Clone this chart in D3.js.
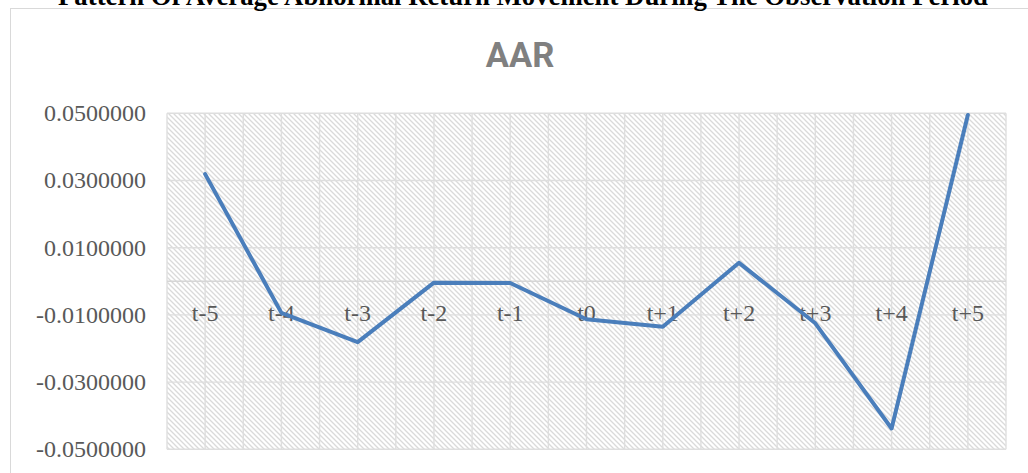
<!DOCTYPE html>
<html>
<head>
<meta charset="utf-8">
<script src="https://cdn.jsdelivr.net/npm/d3@7"></script>
<style>
  html, body { margin: 0; padding: 0; background: #fff; overflow: hidden; }
</style>
</head>
<body>
<div id="chart"></div>
<script>
const periods = ["t-5", "t-4", "t-3", "t-2", "t-1", "t0", "t+1", "t+2", "t+3", "t+4", "t+5"];
const aar = [0.0319, -0.0094, -0.0181, -0.0004, -0.0005, -0.0113, -0.0135, 0.0055, -0.0125, -0.0438, 0.0495];
const yTicks = [0.05, 0.03, 0.01, -0.01, -0.03, -0.05];
const pageTitle = "Pattern Of Average Abnormal Return Movement During The Observation Period";
const chartTitle = "AAR";

const W = 1028, H = 473;
const plot = { left: 167, right: 1006, top: 113.3, bottom: 449.3 };

const svg = d3.select("#chart")
    .append("svg")
    .attr("width", W)
    .attr("height", H);

// hatch fill of the plot area
const defs = svg.append("defs");
const pat = defs.append("pattern")
    .attr("id", "hatch")
    .attr("patternUnits", "userSpaceOnUse")
    .attr("width", 5)
    .attr("height", 5);
pat.append("rect").attr("width", 5).attr("height", 5).attr("fill", "#fff");
pat.append("path")
    .attr("d", "M-1,-1 L6,6 M-1,4 L1,6 M4,-1 L6,1")
    .attr("stroke", "#dadada")
    .attr("stroke-width", 1.3);

// chart box (cropped at right and bottom)
svg.append("rect")
    .attr("x", 10.5)
    .attr("y", 8.5)
    .attr("width", 1040)
    .attr("height", 500)
    .attr("fill", "none")
    .attr("stroke", "#d9d9d9")
    .attr("stroke-width", 1);

const x = d3.scaleBand()
    .domain(periods)
    .range([plot.left, plot.right])
    .padding(0);

const y = d3.scaleLinear()
    .domain([-0.05, 0.05])
    .range([plot.bottom, plot.top]);

const cx = d => x(d) + x.bandwidth() / 2;
const fmt = d => d3.format(".7f")(d).replace("\u2212", "-");

svg.append("rect")
    .attr("x", plot.left)
    .attr("y", plot.top)
    .attr("width", plot.right - plot.left)
    .attr("height", plot.bottom - plot.top)
    .attr("fill", "url(#hatch)");

// vertical gridlines at band edges and centres
const vLines = [];
periods.forEach(p => { vLines.push(x(p)); vLines.push(cx(p)); });
vLines.push(plot.right);

svg.append("g")
    .selectAll("line")
    .data(vLines)
    .join("line")
    .attr("x1", d => d)
    .attr("x2", d => d)
    .attr("y1", plot.top)
    .attr("y2", plot.bottom)
    .attr("stroke", "#dedede")
    .attr("stroke-width", 1.4);

// horizontal gridlines
svg.append("g")
    .selectAll("line")
    .data(yTicks.concat([0]))
    .join("line")
    .attr("x1", plot.left)
    .attr("x2", plot.right)
    .attr("y1", d => y(d))
    .attr("y2", d => y(d))
    .attr("stroke", d => d === 0 ? "#d6d6d6" : "#dedede")
    .attr("stroke-width", 1.4);

// y tick labels
svg.append("g")
    .selectAll("text")
    .data(yTicks)
    .join("text")
    .attr("x", 146)
    .attr("y", d => y(d))
    .attr("dy", "0.33em")
    .attr("text-anchor", "end")
    .attr("font-family", "'Liberation Serif', 'Times New Roman', serif")
    .attr("font-size", 24)
    .attr("fill", "#595959")
    .text(fmt);

// category labels next to the zero axis
svg.append("g")
    .selectAll("text")
    .data(periods)
    .join("text")
    .attr("x", d => cx(d))
    .attr("y", y(0) + 39.5)
    .attr("text-anchor", "middle")
    .attr("font-family", "'Liberation Serif', 'Times New Roman', serif")
    .attr("font-size", 24)
    .attr("fill", "#595959")
    .text(d => d);

// the series
const line = d3.line()
    .x((d, i) => cx(periods[i]))
    .y(d => y(d));

svg.append("path")
    .datum(aar)
    .attr("fill", "none")
    .attr("stroke", "#4a7ebb")
    .attr("stroke-width", 4)
    .attr("stroke-linejoin", "round")
    .attr("stroke-linecap", "round")
    .attr("d", line);

// chart title
svg.append("text")
    .attr("x", 520)
    .attr("y", 67.3)
    .attr("text-anchor", "middle")
    .attr("font-family", "Roboto, 'Liberation Sans', sans-serif")
    .attr("font-weight", "bold")
    .attr("font-size", 34.5)
    .attr("fill", "#808080")
    .text(chartTitle);

// page caption, cut off at the top edge as in the source
const cap = svg.append("text")
    .attr("x", 523)
    .attr("y", 5)
    .attr("text-anchor", "middle")
    .attr("font-family", "'Liberation Serif', 'Times New Roman', serif")
    .attr("font-weight", "bold")
    .attr("font-size", 27)
    .attr("fill", "#000")
    .text(pageTitle);
const capLen = cap.node().getComputedTextLength();
cap.attr("font-size", 27 * 930 / capLen);
</script>
</body>
</html>
